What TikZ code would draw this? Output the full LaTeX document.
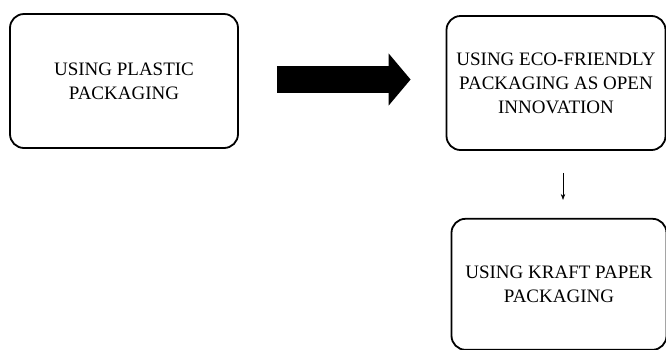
\documentclass[tikz,border=0pt]{standalone}
\usepackage{fontspec}
\setmainfont{Liberation Serif}
\usepackage{tikz}
\usetikzlibrary{arrows.meta, positioning}
\tikzstyle{stage} = [rectangle, rounded corners=14pt, minimum width=228pt, minimum height=134pt, text centered, align=center, draw=black, line width=1.8pt]
\tikzstyle{bigarrow} = [line width=27pt, -{Triangle[length=22pt, width=51pt]}]
\tikzstyle{arrow} = [semithick, -{Stealth[length=6pt, width=4.5pt]}]
\tikzset{
  font={\fontsize{19pt}{24pt}\selectfont}}

\begin{document}
\begin{tikzpicture}[x=1pt, y=-1pt]
    \useasboundingbox (0,0) rectangle (666,349);
    \node (plastic) [stage] at (124,81) {USING PLASTIC\\PACKAGING};
    \node (ecofriendly) [stage, minimum width=219pt] at (556,83) {USING ECO-FRIENDLY\\PACKAGING AS OPEN\\INNOVATION};
    \node (kraft) [stage, below=67pt of ecofriendly, xshift=3pt, minimum width=215pt, minimum height=131pt] {USING KRAFT PAPER\\PACKAGING};

    \draw [bigarrow, shorten <=38pt, shorten >=35pt] ([yshift=1.5pt]plastic.east) -- ([yshift=1.5pt]plastic.east -| ecofriendly.west);
    \draw [arrow, shorten <=22pt, shorten >=18pt] ([xshift=7pt]ecofriendly.south) -- ([xshift=7pt]ecofriendly.south |- kraft.north);
\end{tikzpicture}
\end{document}
